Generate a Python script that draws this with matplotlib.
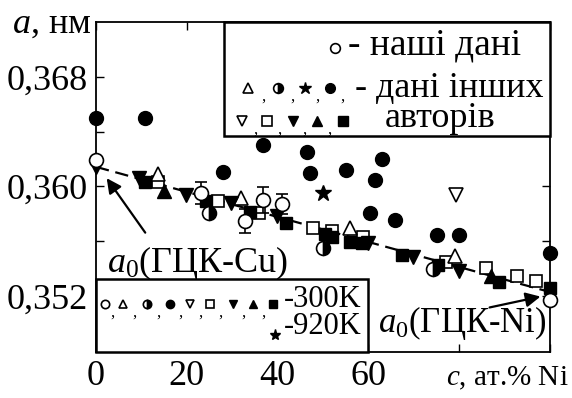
import numpy as np
import matplotlib
matplotlib.use("Agg")
import matplotlib.pyplot as plt
from matplotlib.patches import Rectangle

plt.rcParams.update({
    'font.family': ['Liberation Serif', 'DejaVu Serif'],
    'mathtext.fontset': 'custom',
    'mathtext.rm': 'Liberation Serif',
    'mathtext.it': 'Liberation Serif:italic',
    'font.size': 24,
})

# =========================
# Data (c, at.% Ni ; a, nm)
# =========================
# our data (open circles) with error bars
our_c = [0.0, 23.1, 32.8, 36.8, 41.0, 100.0]
our_a = [0.36193, 0.35952, 0.35747, 0.35900, 0.35871, 0.35169]
our_err = [0.0, 0.0008, 0.00088, 0.00095, 0.00073, 0.0]

half_c = [24.9, 50.0, 74.2]
half_a = [0.35805, 0.35549, 0.35396]

tri_up_open_c = [13.7, 31.9, 55.9, 79.1]
tri_up_open_a = [0.36091, 0.35915, 0.35696, 0.35491]

dot_c = [0.0, 10.8, 28.0, 36.8, 46.5, 47.1, 55.1, 63.0, 61.5, 60.4, 65.9, 75.1, 80.0, 100.0]
dot_a = [0.36500, 0.36500, 0.36105, 0.36303, 0.36252, 0.36098, 0.36120, 0.36200,
         0.36047, 0.35805, 0.35754, 0.35645, 0.35645, 0.35513]

tri_down_open_c = [79.3]
tri_down_open_a = [0.35937]

sq_open_c = [13.7, 26.9, 35.9, 47.8, 52.0, 58.8, 77.1, 85.9, 92.7, 96.9]
sq_open_a = [0.36032, 0.35893, 0.35805, 0.35696, 0.35674, 0.35630, 0.35447, 0.35403, 0.35345, 0.35308]

tri_down_c = [0.0, 9.5, 19.8, 29.7, 39.9, 59.9, 69.8, 80.0]
tri_down_a = [0.36142, 0.36061, 0.35937, 0.35879, 0.35783, 0.35586, 0.35484, 0.35381]

tri_up_c = [15.0, 87.0]
tri_up_a = [0.35966, 0.35345]

sq_c = [10.8, 24.2, 33.9, 41.9, 50.4, 52.0, 55.9, 58.6, 67.4, 75.3, 88.8, 100.0]
sq_a = [0.36032, 0.35893, 0.35813, 0.35732, 0.35652, 0.35630, 0.35593, 0.35586,
        0.35498, 0.35425, 0.35301, 0.35257]

star_c = [50.0]   # 920 K
star_a = [0.35952]

fit_c = [0.0, 100.0]
fit_a = [0.36142, 0.35228]

xticks = [0, 20, 40, 60, 80, 100]
xticklabels = ['0', '20', '40', '60', '', '']
yticks = [0.352, 0.356, 0.360, 0.364, 0.368]
yticklabels = ['0,352', '', '0,360', '', '0,368']

# =========================
# marker styles
# =========================
K = 'black'
W = 'white'
st = {
    'open_o': dict(marker='o', ms=10, mfc=W, mec=K, mew=1.2),
    'half_o': dict(marker='o', ms=10, mfc=K, mec=K, mew=1.2, fillstyle='right', markerfacecoloralt=W),
    'open_up': dict(marker='^', ms=10, mfc=W, mec=K, mew=1.2),
    'dot': dict(marker='o', ms=10, mfc=K, mec=K),
    'open_dn': dict(marker='v', ms=10, mfc=W, mec=K, mew=1.2),
    'open_sq': dict(marker='s', ms=9, mfc=W, mec=K, mew=1.2),
    'dn': dict(marker='v', ms=10, mfc=K, mec=K),
    'up': dict(marker='^', ms=10, mfc=K, mec=K),
    'sq': dict(marker='s', ms=9, mfc=K, mec=K),
    'star': dict(marker='*', ms=12, mfc=K, mec=K),
}

fig = plt.figure(figsize=(5.72, 3.98), dpi=100)
ax = fig.add_axes([96 / 572, 1 - 352 / 398, 454 / 572, 330 / 398])

ax.plot(fit_c, fit_a, color=K, lw=1.6, dashes=(6, 3), zorder=2)

series = [
    (dot_c, dot_a, 'dot'), (tri_down_open_c, tri_down_open_a, 'open_dn'),
    (sq_open_c, sq_open_a, 'open_sq'), (tri_up_open_c, tri_up_open_a, 'open_up'),
    (sq_c, sq_a, 'sq'), (tri_down_c, tri_down_a, 'dn'), (tri_up_c, tri_up_a, 'up'),
    (half_c, half_a, 'half_o'), (star_c, star_a, 'star'),
]
for c, a, key in series:
    ax.plot(c, a, ls='none', clip_on=False, zorder=3, **st[key])

ax.errorbar(our_c, our_a, yerr=our_err, ls='none', ecolor=K, elinewidth=1.2,
            capsize=4, capthick=1.2, clip_on=False, zorder=3, **st['open_o'])

ax.set_xlim(0, 100)
ax.set_ylim(0.3479, 0.3720)
ax.set_xticks(xticks)
ax.set_xticklabels(xticklabels)
ax.set_yticks(yticks)
ax.set_yticklabels(yticklabels)
ax.tick_params(direction='in', length=6, width=1, top=True, right=True,
               labelsize=26, pad=6)
for s in ax.spines.values():
    s.set_linewidth(1.3)

# axis titles
fig.text(12 / 572, 1 - 33 / 398, '$a$, нм', fontsize=26, va='baseline')
ax.text(1.04, -0.1, '$c$, ат.% Ni', transform=ax.transAxes, fontsize=21,
        va='baseline', ha='right')

# annotations with arrows
ax.annotate('', xy=(2.0, 0.36076), xytext=(11.2, 0.35645),
            arrowprops=dict(arrowstyle='-|>', color=K, lw=1.6, mutation_scale=22))
ax.annotate('', xy=(98.5, 0.35199), xytext=(86.1, 0.35111),
            arrowprops=dict(arrowstyle='-|>', color=K, lw=1.6, mutation_scale=22))
ax.text(2.4, 0.3544, '$a_0$(ГЦК-Cu)', fontsize=26, va='center', ha='left', zorder=5)
ax.text(62.1, 0.3500, '$a_0$(ГЦК-Ni)', fontsize=25, va='center', ha='left', zorder=5)

# =========================
# legend boxes (axes fraction)
# =========================
tr = ax.transAxes
ax.add_patch(Rectangle((0.282, 0.6545), 0.718, 0.3455, transform=tr, fc=W, ec=K,
                       lw=1.8, zorder=4, clip_on=False))
ax.add_patch(Rectangle((0.0, 0.0), 0.599, 0.221, transform=tr, fc=W, ec=K,
                       lw=1.8, zorder=4, clip_on=False))

def key(x, y, name, size):
    kw = dict(st[name])
    kw['ms'] = size if name != 'star' else size + 2
    ax.plot([x], [y], ls='none', transform=tr, zorder=6, clip_on=False, **kw)

def commas(xs, y):
    for x in xs:
        ax.text(x, y, ',', transform=tr, fontsize=12, ha='center', va='center', zorder=6)

# upper box
key(0.526, 0.921, 'open_o', 7)
ax.text(0.556, 0.930, '- наші дані', transform=tr, va='center', ha='left', fontsize=27, zorder=6)
for x, name in zip([0.335, 0.401, 0.460, 0.515], ['open_up', 'half_o', 'star', 'dot']):
    key(x, 0.80, name, 7)
commas([0.368, 0.432, 0.487, 0.542], 0.775)
ax.text(0.570, 0.80, '- дані інших', transform=tr, va='center', ha='left', fontsize=26, zorder=6)
for x, name in zip([0.322, 0.377, 0.434, 0.487, 0.544], ['open_dn', 'open_sq', 'dn', 'up', 'sq']):
    key(x, 0.70, name, 7)
commas([0.350, 0.405, 0.460, 0.515], 0.675)
ax.text(0.758, 0.709, 'авторів', transform=tr, va='center', ha='center', fontsize=26, zorder=6)

# lower box
low_names = ['open_o', 'open_up', 'half_o', 'dot', 'open_dn', 'open_sq', 'dn', 'up', 'sq']
low_x = [0.020, 0.059, 0.112, 0.163, 0.207, 0.251, 0.302, 0.346, 0.390]
for x, name in zip(low_x, low_names):
    key(x, 0.145, name, 6)
commas([0.037, 0.084, 0.137, 0.185, 0.229, 0.275, 0.324, 0.368], 0.12)
ax.text(0.414, 0.158, '-300K', transform=tr, va='center', ha='left', fontsize=22, zorder=6)
key(0.394, 0.052, 'star', 6)
ax.text(0.414, 0.076, '-920K', transform=tr, va='center', ha='left', fontsize=22, zorder=6)

fig.savefig('out.png', dpi=100)
